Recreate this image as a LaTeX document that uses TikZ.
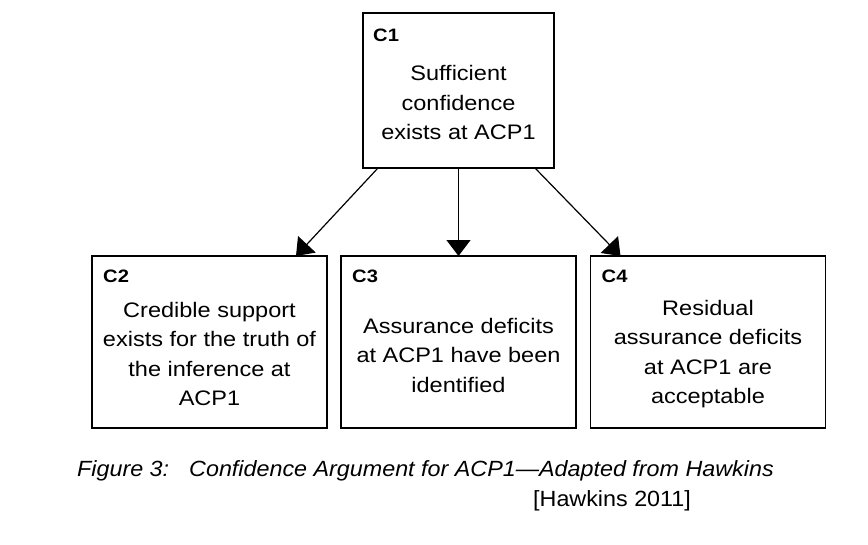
\documentclass[tikz,border=0pt]{standalone}
\usepackage{fontspec}
\setmainfont{Liberation Sans}[FakeStretch=1.12]
\newfontfamily\capfont{Liberation Sans}[FakeStretch=1.06, Ligatures=TeX]
\usetikzlibrary{arrows.meta}

\tikzset{
    box/.style={draw, line width=1.2pt, inner sep=0pt, outer sep=0pt},
    ctitle/.style={anchor=north west, inner sep=0pt, font=\fontsize{18}{20}\selectfont\bfseries},
    cbody/.style={align=center, inner sep=0pt, font=\fontsize{21}{29.5}\selectfont},
    caption/.style={anchor=base west, inner sep=0pt, font=\capfont\fontsize{22}{26}\selectfont},
    captionit/.style={caption, font=\capfont\fontsize{22}{26}\selectfont\itshape},
    arr/.style={line width=1.2pt, -{Triangle[width=24pt,length=16pt]}}
}

\begin{document}
\begin{tikzpicture}[x=1pt, y=1pt]

    \useasboundingbox (0,0) rectangle (868,-544);

    % Draw the top claim
    \node[box, minimum width=191pt, minimum height=155pt] (c1) at (458.5,-90.5) {};
    \node[ctitle] (c1t) at ([xshift=10pt,yshift=-16pt]c1.north west) {C1};
    \node[cbody] (c1b) at ([yshift=-12pt]c1.center) {Sufficient\\confidence\\exists at ACP1};

    % Draw the three sub-claims
    \node[box, minimum width=235pt, minimum height=172pt] (c2) at (209.5,-342) {};
    \node[ctitle] (c2t) at ([xshift=11pt,yshift=-14pt]c2.north west) {C2};
    \node[cbody] (c2b) at ([yshift=-12pt]c2.center) {Credible support\\exists for the truth of\\the inference at\\ACP1};

    \node[box, minimum width=235pt, minimum height=172pt] (c3) at (458.5,-342) {};
    \node[ctitle] (c3t) at ([xshift=11pt,yshift=-14pt]c3.north west) {C3};
    \node[cbody] (c3b) at ([yshift=-13pt]c3.center) {Assurance deficits\\at ACP1 have been\\identified};

    \node[box, minimum width=235pt, minimum height=172pt] (c4) at (708,-342) {};
    \node[ctitle] (c4t) at ([xshift=11pt,yshift=-14pt]c4.north west) {C4};
    \node[cbody] (c4b) at ([yshift=-12pt]c4.center) {Residual\\assurance deficits\\at ACP1 are\\acceptable};

    % Connect the claims
    \draw[arr] ([xshift=15pt]c1.south west) -- ([xshift=-31pt]c2.north east);
    \draw[arr] (c1.south) -- (c3.north);
    \draw[arr] ([xshift=-19pt]c1.south east) -- ([xshift=30pt]c4.north west);

    % Caption
    \node[captionit] (fig) at (77,-476) {Figure 3:};
    \node[captionit] (cap) at (189,-476) {Confidence Argument for ACP1---Adapted from Hawkins};
    \node[caption] (ref) at (533,-506) {[Hawkins 2011]};

\end{tikzpicture}
\end{document}
